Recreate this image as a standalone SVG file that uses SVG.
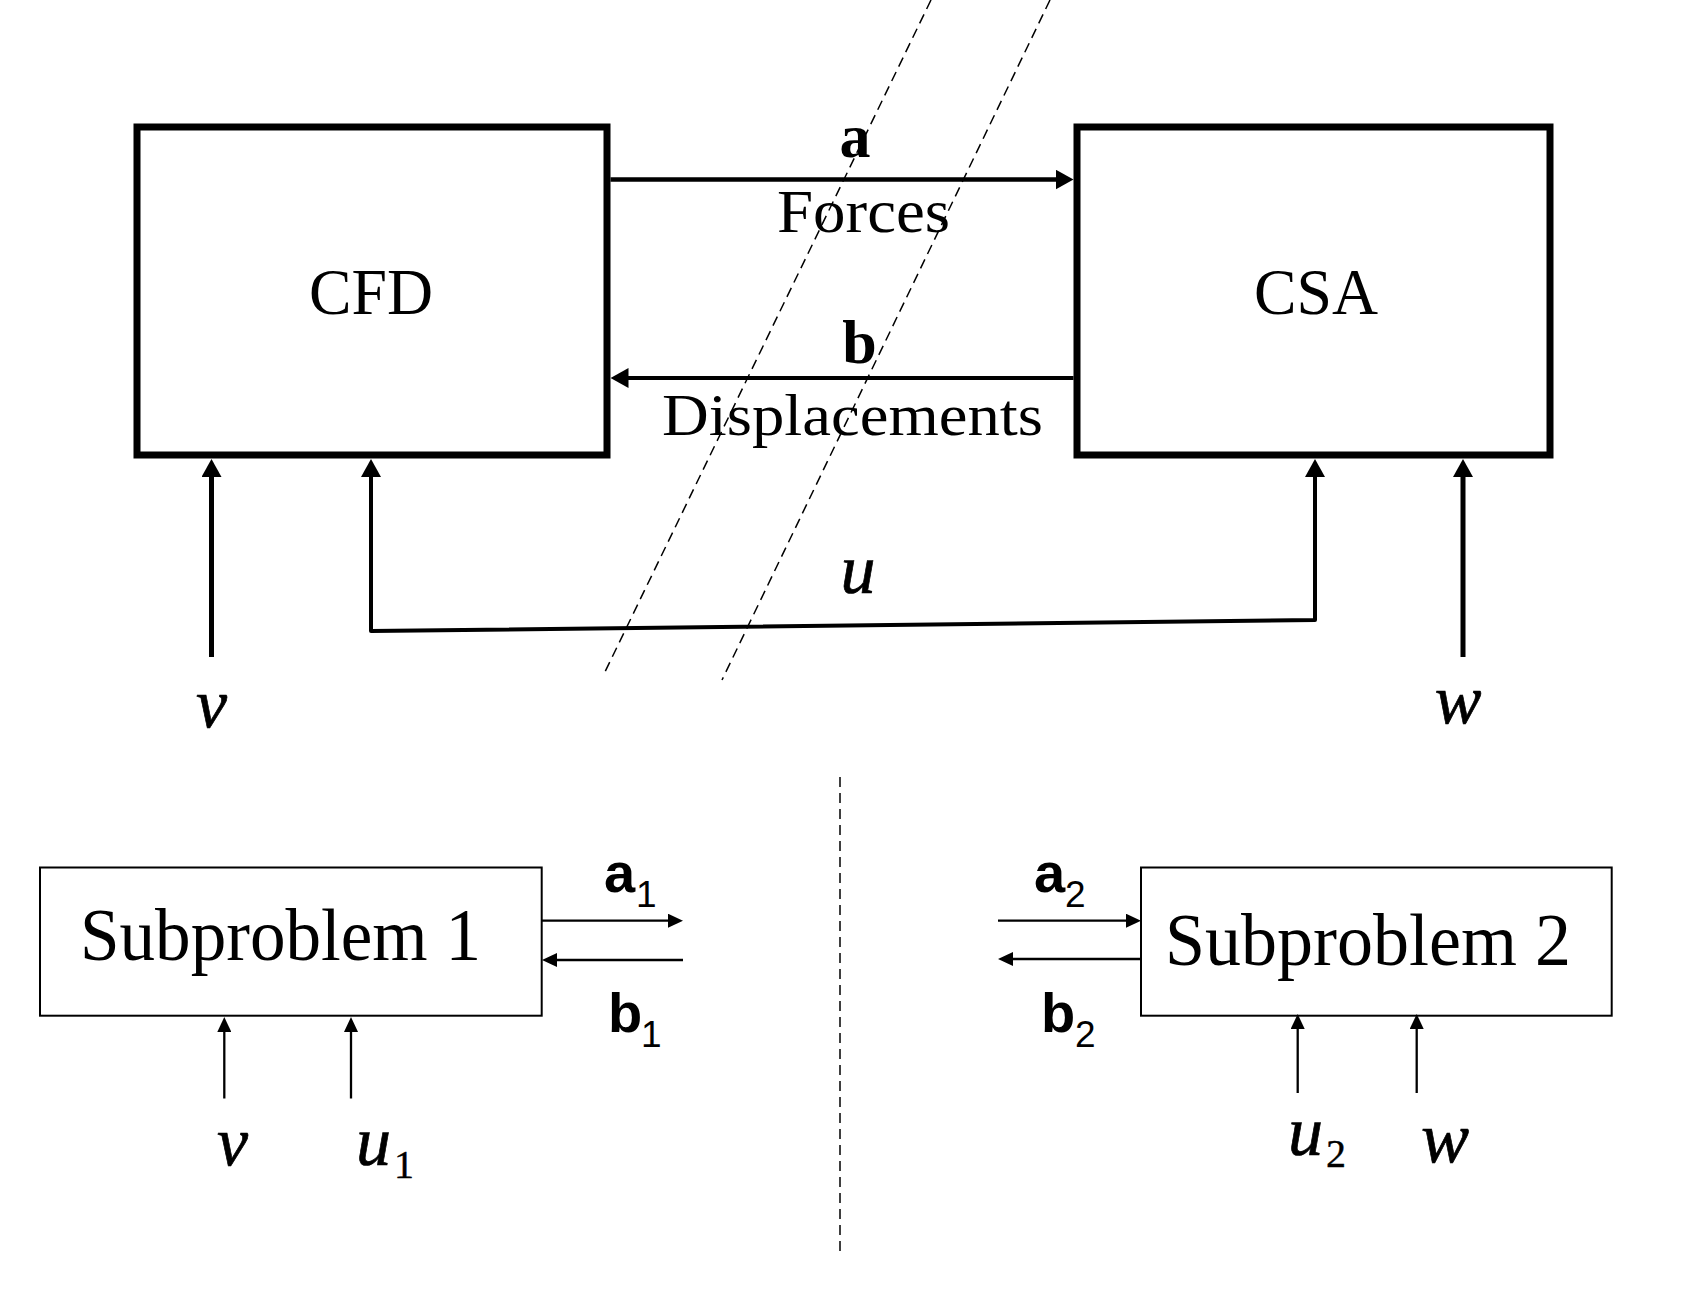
<svg xmlns="http://www.w3.org/2000/svg" width="1686" height="1306" viewBox="0 0 1686 1306">
<style>
.bigbox{fill:#fff;stroke:#000;stroke-width:7}
.smallbox{fill:#fff;stroke:#000;stroke-width:2}
.serif{font-family:"Liberation Serif","Times New Roman",serif;fill:#000}
.math{font-family:"Liberation Serif","Times New Roman",serif;font-style:italic;fill:#000;stroke:#000;stroke-width:0.7}
.sub{font-family:"Liberation Serif","Times New Roman",serif;font-style:normal;stroke-width:0.4}
.sans{font-family:"Liberation Sans",Arial,sans-serif;fill:#000}
.conn{fill:none;stroke:#000}
.dash{fill:none;stroke:#000;stroke-width:1.5;stroke-dasharray:10 6}
</style>
<defs>
<marker id="headL" markerUnits="userSpaceOnUse" viewBox="0 0 18 20" refX="10" refY="10" markerWidth="18" markerHeight="20" orient="auto-start-reverse">
<path d="M0,0 L18,10 L0,20 z" fill="#000"/>
</marker>
<marker id="headS" markerUnits="userSpaceOnUse" viewBox="0 0 15 14" refX="9" refY="7" markerWidth="15" markerHeight="14" orient="auto-start-reverse">
<path d="M0,0 L15,7 L0,14 z" fill="#000"/>
</marker>
</defs>
<rect width="1686" height="1306" fill="#fff"/>

<g id="cfd">
<rect class="bigbox" x="137" y="127" width="470" height="328"/>
<text class="serif" x="371" y="314" font-size="65" text-anchor="middle" textLength="124" lengthAdjust="spacingAndGlyphs">CFD</text>
</g>
<g id="csa">
<rect class="bigbox" x="1077" y="127" width="473" height="328"/>
<text class="serif" x="1316" y="314" font-size="65" text-anchor="middle" textLength="124" lengthAdjust="spacingAndGlyphs">CSA</text>
</g>
<g id="sub1">
<rect class="smallbox" x="40" y="867.5" width="501.7" height="148.2"/>
<text class="serif" x="80" y="959.5" font-size="74" textLength="401" lengthAdjust="spacingAndGlyphs">Subproblem 1</text>
</g>
<g id="sub2">
<rect class="smallbox" x="1141" y="867.5" width="470.7" height="148.2"/>
<text class="serif" x="1165" y="965" font-size="74" textLength="406" lengthAdjust="spacingAndGlyphs">Subproblem 2</text>
</g>

<g id="connectors">
<path class="conn" stroke-width="4.5" d="M610.5,179.5 L1065.5,179.5" marker-end="url(#headL)"/>
<path class="conn" stroke-width="4" d="M1073.5,378 L618.5,378" marker-end="url(#headL)"/>
<path class="conn" stroke-width="5" d="M211.5,657 L211.5,467" marker-end="url(#headL)"/>
<path class="conn" stroke-width="5" d="M1463,657 L1463,467" marker-end="url(#headL)"/>
<path class="conn" stroke-width="4" stroke-linejoin="round" d="M371,467 L371,631 L1315,620 L1315,467" marker-start="url(#headL)" marker-end="url(#headL)"/>

<path class="conn" stroke-width="2.3" d="M542,920.7 L677,920.7" marker-end="url(#headS)"/>
<path class="conn" stroke-width="2.3" d="M683,960 L548,960" marker-end="url(#headS)"/>
<path class="conn" stroke-width="2.3" d="M998,920.7 L1135,920.7" marker-end="url(#headS)"/>
<path class="conn" stroke-width="2.3" d="M1141,959 L1004,959" marker-end="url(#headS)"/>
<path class="conn" stroke-width="2.3" d="M224.3,1098.5 L224.3,1023" marker-end="url(#headS)"/>
<path class="conn" stroke-width="2.3" d="M351,1098.5 L351,1023" marker-end="url(#headS)"/>
<path class="conn" stroke-width="2.3" d="M1297.7,1093 L1297.7,1020" marker-end="url(#headS)"/>
<path class="conn" stroke-width="2.3" d="M1416.7,1093 L1416.7,1020" marker-end="url(#headS)"/>

<text class="serif" x="855" y="157" font-size="62" font-weight="bold" text-anchor="middle">a</text>
<text class="serif" x="863.5" y="231.7" font-size="62" text-anchor="middle" textLength="173" lengthAdjust="spacingAndGlyphs">Forces</text>
<text class="serif" x="859.5" y="363" font-size="62" font-weight="bold" text-anchor="middle">b</text>
<text class="serif" x="662" y="435" font-size="60" textLength="381" lengthAdjust="spacingAndGlyphs">Displacements</text>
<text class="math" x="858" y="593" font-size="70" text-anchor="middle">u</text>

<text class="sans" x="604" y="892" font-size="56" font-weight="bold">a<tspan x="636" y="907" font-size="37" font-weight="normal">1</tspan></text>
<text class="sans" x="608" y="1032" font-size="56" font-weight="bold">b<tspan x="641" y="1047" font-size="37" font-weight="normal">1</tspan></text>
<text class="sans" x="1034" y="892" font-size="56" font-weight="bold">a<tspan x="1065" y="907" font-size="37" font-weight="normal">2</tspan></text>
<text class="sans" x="1041" y="1032" font-size="56" font-weight="bold">b<tspan x="1075" y="1047" font-size="37" font-weight="normal">2</tspan></text>
</g>

<g id="inputs">
<text class="math" x="211.5" y="727" font-size="70" text-anchor="middle">v</text>
<text class="math" x="1458" y="723" font-size="70" text-anchor="middle">w</text>
<text class="math" x="232.5" y="1165" font-size="70" text-anchor="middle">v</text>
<text class="math" x="356" y="1165" font-size="70">u<tspan class="sub" x="394" y="1178" font-size="40">1</tspan></text>
<text class="math" x="1288" y="1155" font-size="70">u<tspan class="sub" x="1326" y="1167" font-size="40">2</tspan></text>
<text class="math" x="1445" y="1162" font-size="72" text-anchor="middle">w</text>
</g>

<g id="separators">
<path class="dash" d="M931,0 L603,676"/>
<path class="dash" d="M1050,0 L722,680"/>
<path class="dash" d="M840,777 L840,1252"/>
</g>
</svg>
